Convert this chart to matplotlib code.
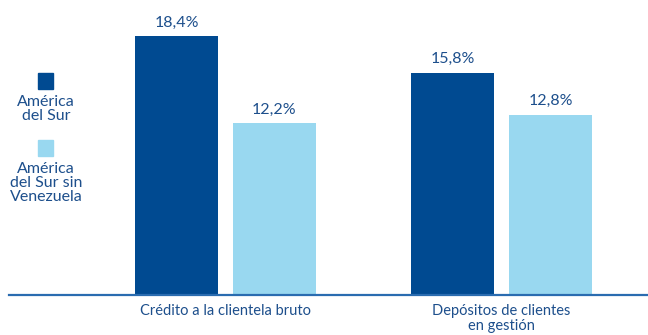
import numpy as np
import matplotlib.pyplot as plt

plt.rcParams['font.family'] = ['Lato', 'DejaVu Sans']

categories = ['Crédito a la clientela bruto', 'Depósitos de clientes\nen gestión']
series_names = ['América\ndel Sur', 'América\ndel Sur sin\nVenezuela']
sur = [18.4, 15.8]
sur_sin_ven = [12.2, 12.8]

dark = '#004a91'
light = '#99d8f0'
text_col = '#1d4f8c'

fig = plt.figure(figsize=(6.48, 3.35), dpi=100)
ax = fig.add_axes([9 / 648, 40.5 / 335, 639 / 648, 294.5 / 335])

x = np.arange(len(categories))
w = 0.30
off = 0.1775
b1 = ax.bar(x - off, sur, w, color=dark)
b2 = ax.bar(x + off, sur_sin_ven, w, color=light)

for bars, vals in [(b1, sur), (b2, sur_sin_ven)]:
    for b, v in zip(bars, vals):
        ax.annotate(f'{v:.1f}%'.replace('.', ','),
                    (b.get_x() + b.get_width() / 2, v),
                    xytext=(0, 5), textcoords='offset points',
                    ha='center', va='bottom', fontsize=11.5, color=text_col)

ax.set_xlim(-0.7844, 1.5308)
ax.set_ylim(0, 21.0)
for s in ['top', 'right', 'left']:
    ax.spines[s].set_visible(False)
ax.spines['bottom'].set_color('#2a6cb0')
ax.spines['bottom'].set_linewidth(1.6)
ax.set_yticks([])
ax.set_xticks(x)
ax.set_xticklabels(categories, fontsize=10.5, color=text_col, linespacing=1.05)
ax.tick_params(axis='x', length=0, pad=7)

# legend drawn by hand: squares with centred captions underneath
for name, col, ytop, ytxt in [(series_names[0], dark, 73, 95),
                              (series_names[1], light, 140, 162)]:
    fig.patches.append(plt.Rectangle((38 / 648, 1 - (ytop + 16) / 335), 15 / 648, 16 / 335,
                                     transform=fig.transFigure, color=col))
    fig.text(46 / 648, 1 - ytxt / 335, name, ha='center', va='top',
             fontsize=11.5, color=text_col, linespacing=1.0)

fig.savefig('out.png', dpi=100)
